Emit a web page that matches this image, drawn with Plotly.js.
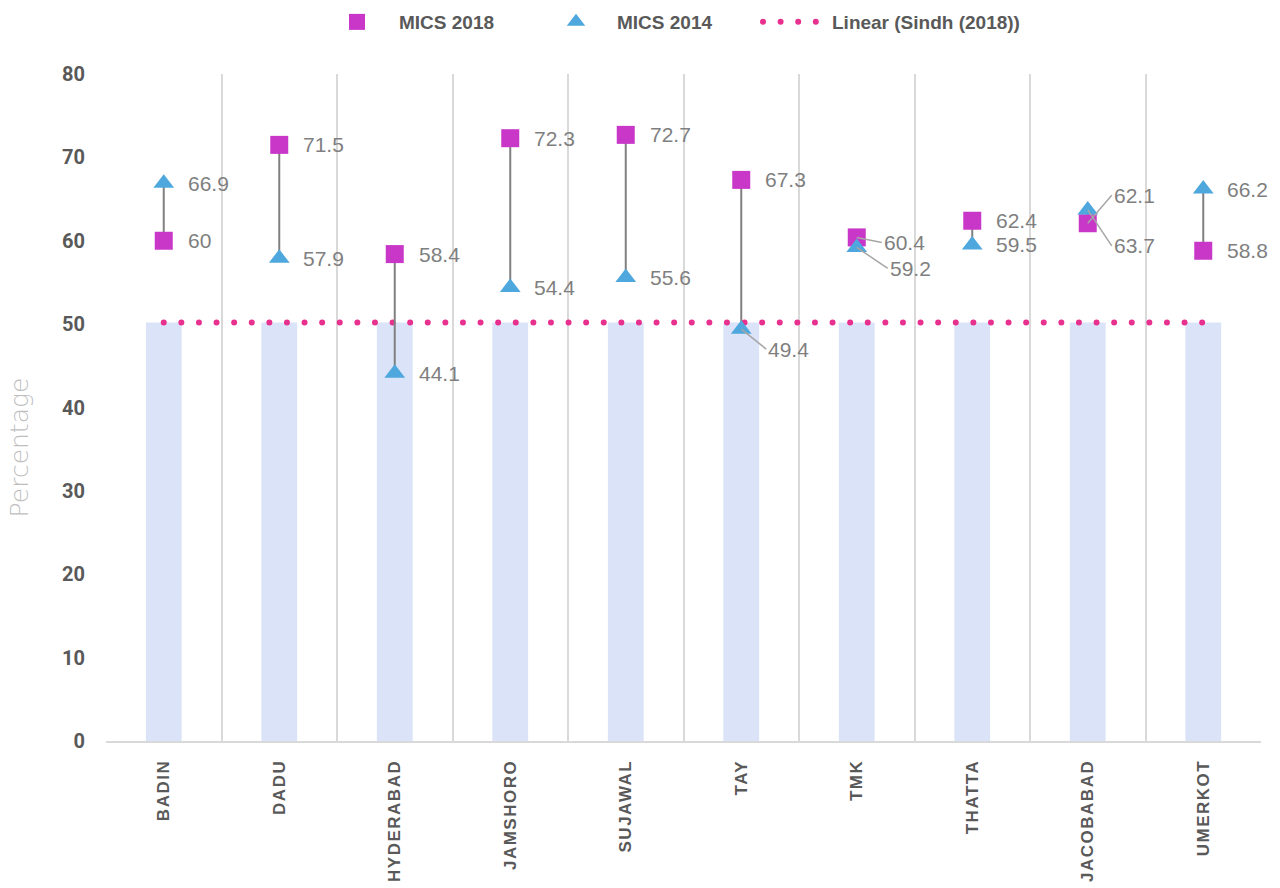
<!DOCTYPE html>
<html>
<head>
<meta charset="utf-8">
<script src="https://cdn.plot.ly/plotly-3.0.1.min.js"></script>
<style>
html,body{margin:0;padding:0;background:#ffffff;}
#chart{width:1280px;height:888px;}
.xtick text{letter-spacing:1.5px;}
path.js-line{stroke-linecap:round;}
.g-ytitle{transform:translateY(40px);}
</style>
</head>
<body>
<div id="chart"></div>
<script>
// ---- data ----
var categories = ['BADIN','DADU','HYDERABAD','JAMSHORO','SUJAWAL','TAY','TMK','THATTA','JACOBABAD','UMERKOT'];
var mics2018 = [60, 71.5, 58.4, 72.3, 72.7, 67.3, 60.4, 62.4, 62.1, 58.8];
var mics2014 = [66.9, 57.9, 44.1, 54.4, 55.6, 49.4, 59.2, 59.5, 63.7, 66.2];
var sindh2018 = [50.2, 50.2, 50.2, 50.2, 50.2, 50.2, 50.2, 50.2, 50.2, 50.2];
var yTicks = [0, 10, 20, 30, 40, 50, 60, 70, 80];

// ---- label placement (styles only) ----
var leader = {
  'TAY|2014': {ax: 25, ay: 20},
  'TMK|2018': {ax: 25, ay: 5},
  'TMK|2014': {ax: 31, ay: 21},
  'JACOBABAD|2018': {ax: 24, ay: -28},
  'JACOBABAD|2014': {ax: 24, ay: 36}
};

var gray = '#595959';
var hlX = [], hlY = [];
categories.forEach(function(c, i){
  hlX.push(c, c, null);
  hlY.push(mics2018[i], mics2014[i], null);
});

var traces = [
  {type:'bar', x:categories, y:sindh2018, name:'Sindh (2018)', showlegend:false,
   marker:{color:'#dae3f8'}, hoverinfo:'skip'},
  {type:'scatter', mode:'lines', x:categories, y:sindh2018, name:'Linear (Sindh (2018))',
   legend:'legend3', line:{color:'#e8308e', width:6, dash:'0px,17.6px'}},
  {type:'scatter', mode:'lines', x:hlX, y:hlY, showlegend:false, hoverinfo:'skip',
   line:{color:'#808080', width:2}, connectgaps:false},
  {type:'scatter', mode:'markers', x:categories, y:mics2018, name:'MICS 2018', legend:'legend',
   marker:{symbol:'square', size:18, color:'#c837c8'}},
  {type:'scatter', mode:'markers', x:categories, y:mics2014, name:'MICS 2014', legend:'legend2',
   marker:{symbol:'triangle-up', size:18, color:'#4ea7dd'}}
];

var annotations = [];
function addLabel(cat, val, key){
  var lf = leader[cat + '|' + key];
  var a = {x:cat, y:val, xref:'x', yref:'y', text:String(val),
           font:{family:'Liberation Sans, Arial, sans-serif', size:21, color:'#7f7f7f'}};
  if(lf){
    a.showarrow = true; a.arrowhead = 0; a.arrowwidth = 1.5; a.arrowcolor = '#a6a6a6';
    a.ax = lf.ax; a.ay = lf.ay; a.xanchor = 'left'; a.yanchor = 'middle';
    a.standoff = 0; a.startstandoff = 0;
  } else {
    a.showarrow = false; a.xanchor = 'left'; a.yanchor = 'middle'; a.xshift = 22;
  }
  annotations.push(a);
}
categories.forEach(function(c, i){
  addLabel(c, mics2018[i], '2018');
  addLabel(c, mics2014[i], '2014');
});

var legendFont = {family:'Liberation Sans, Arial, sans-serif', size:19, color:gray, weight:'bold'};
function legendAt(x, w){
  return {orientation:'h', xref:'container', yref:'container', x:x, y:0.9966,
          xanchor:'left', yanchor:'top', itemwidth:w, font:legendFont, bgcolor:'rgba(0,0,0,0)'};
}

var layout = {
  width:1280, height:888,
  paper_bgcolor:'#ffffff', plot_bgcolor:'#ffffff',
  margin:{l:106, r:19, t:74, b:147},
  bargap:0.69,
  showlegend:true,
  legend: legendAt(315/1280, 74),
  legend2: legendAt(535/1280, 72),
  legend3: legendAt(758/1280, 64),
  xaxis:{type:'category', tickson:'boundaries', showgrid:true, gridcolor:'#d9d9d9', gridwidth:2,
         showline:true, linecolor:'#d9d9d9', linewidth:2, ticks:'', tickangle:-90,
         ticklabelstandoff:10, zeroline:false, range:[-0.5, 9.5], automargin:false,
         tickfont:{family:'Liberation Sans, Arial, sans-serif', size:17, color:gray, weight:'bold'}},
  yaxis:{range:[0,80], tickvals:yTicks, ticktext:yTicks.map(String), showgrid:false, zeroline:false,
         showline:false, ticks:'', ticklabelstandoff:20, automargin:false,
         tickfont:{family:'Roboto, sans-serif', size:20, color:gray, weight:'bold'},
         title:{text:'Percentage', standoff:26,
                font:{family:'DejaVu Sans, sans-serif', size:25, color:'#bfbfbf', weight:200}}},
  annotations:annotations
};

Plotly.newPlot('chart', traces, layout, {displayModeBar:false, staticPlot:true});
</script>
</body>
</html>
